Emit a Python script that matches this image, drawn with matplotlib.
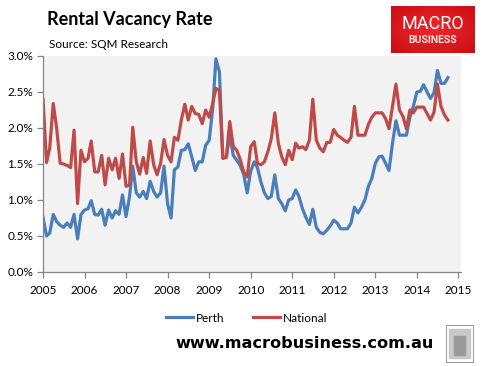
import numpy as np
import pandas as pd
import matplotlib
matplotlib.use('Agg')
import matplotlib.pyplot as plt
import matplotlib.dates as mdates
from matplotlib.patches import Rectangle
from matplotlib.ticker import FuncFormatter

# monthly series, Jan 2005 - Oct 2014 (percent)
perth = [
    0.76, 0.50, 0.54, 0.80, 0.70, 0.65, 0.62, 0.68, 0.62, 0.80, 0.46, 0.80,
    0.86, 0.88, 0.99, 0.80, 0.79, 0.87, 0.65, 0.86, 0.75, 0.85, 0.80, 1.07,
    0.77, 1.05, 1.47, 1.10, 1.04, 1.12, 1.02, 1.26, 1.12, 1.04, 1.10, 1.47,
    0.95, 0.75, 1.42, 1.46, 1.69, 1.70, 1.78, 1.60, 1.41, 1.53, 1.53, 1.76,
    1.83, 2.27, 2.96, 2.78, 1.58, 1.60, 1.90, 1.62, 1.55, 1.48, 1.35, 1.10,
    1.40, 1.53, 1.45, 1.25, 1.10, 1.02, 1.05, 1.35, 1.02, 0.95, 0.85, 1.00,
    1.02, 1.14, 1.05, 0.88, 0.76, 0.66, 0.87, 0.62, 0.55, 0.53, 0.58, 0.64,
    0.72, 0.68, 0.60, 0.60, 0.60, 0.68, 0.90, 0.82, 0.90, 1.00, 1.19, 1.30,
    1.51, 1.60, 1.61, 1.51, 1.41, 1.79, 2.10, 1.90, 1.90, 1.90, 2.15, 2.30,
    2.50, 2.51, 2.60, 2.50, 2.41, 2.49, 2.80, 2.62, 2.62, 2.70,
]
national = [
    2.40, 1.52, 1.72, 2.34, 2.00, 1.51, 1.50, 1.48, 1.45, 1.97, 0.95, 1.69,
    1.53, 1.58, 1.82, 1.39, 1.39, 1.62, 1.21, 1.58, 1.42, 1.58, 1.30, 1.64,
    1.19, 1.21, 2.01, 1.53, 1.36, 1.59, 1.37, 1.82, 1.49, 1.35, 1.51, 1.84,
    1.62, 1.53, 1.87, 1.83, 2.11, 2.33, 2.11, 2.30, 2.20, 2.19, 2.06, 2.25,
    2.15, 2.34, 2.55, 2.52, 1.58, 1.59, 2.09, 1.74, 1.69, 1.56, 1.39, 1.32,
    1.74, 1.81, 1.51, 1.49, 1.53, 1.67, 1.85, 2.21, 1.79, 1.60, 1.49, 1.69,
    1.56, 1.79, 1.72, 1.74, 1.70, 1.83, 2.40, 1.83, 1.72, 1.67, 1.80, 1.80,
    1.98, 1.90, 1.87, 1.83, 1.80, 1.87, 2.30, 1.90, 1.90, 1.90, 2.05, 2.15,
    2.21, 2.21, 2.21, 2.13, 1.99, 2.30, 2.61, 2.25, 2.16, 1.99, 2.25, 2.21,
    2.29, 2.29, 2.29, 2.20, 2.11, 2.22, 2.61, 2.30, 2.18, 2.11,
]
dates = pd.date_range('2005-01-01', periods=len(perth), freq='MS')
series_names = ['Perth', 'National']
series_colors = ['#4A7EBB', '#BE4B48']
yticks = [0.0, 0.5, 1.0, 1.5, 2.0, 2.5, 3.0]

plt.rcParams['font.family'] = ['Lato', 'DejaVu Sans']

fig = plt.figure(figsize=(4.83, 3.66), dpi=100)
ax = fig.add_axes([43 / 483, 1 - 272 / 366, 418 / 483, 216 / 366])
ax.set_facecolor('#F2F2F2')

for name, vals, col in zip(series_names, [perth, national], series_colors):
    ax.plot(dates, vals, color=col, lw=2.3, label=name, solid_joinstyle='round')

ax.set_ylim(0, 3.0)
ax.set_yticks(yticks)
ax.yaxis.set_major_formatter(FuncFormatter(lambda v, p: '%.1f%%' % v))
ax.set_xlim(pd.Timestamp('2005-01-01'), pd.Timestamp('2015-01-24'))
ax.xaxis.set_major_locator(mdates.YearLocator())
ax.xaxis.set_major_formatter(mdates.DateFormatter('%Y'))

for s in ['top', 'right']:
    ax.spines[s].set_visible(False)
for s in ['left', 'bottom']:
    ax.spines[s].set_color('#868686')
    ax.spines[s].set_linewidth(0.9)
ax.tick_params(axis='both', colors='#868686', length=4, width=0.9,
               labelsize=8.5, labelcolor='black', direction='out')
ax.tick_params(axis='y', pad=3)
ax.tick_params(axis='x', pad=5)

leg = fig.legend(loc='center', bbox_to_anchor=(247 / 483, 1 - 318 / 366), ncol=2,
                 frameon=False, fontsize=8.5, handlelength=2.3,
                 handletextpad=0.25, columnspacing=2.4)

fig.text(47 / 483, 1 - 20 / 366, 'Rental Vacancy Rate', fontsize=13,
         fontweight='bold', va='center', ha='left')
fig.text(49 / 483, 1 - 45 / 366, 'Source: SQM Research', fontsize=8.5,
         va='center', ha='left')

# logo
logo = fig.add_axes([391 / 483, 1 - 53 / 366, 83 / 483, 47 / 366])
gx, gy = np.meshgrid(np.linspace(-1, 1, 60), np.linspace(-1, 1, 40))
grad = np.sqrt(gx ** 2 + gy ** 2)
red = matplotlib.colors.LinearSegmentedColormap.from_list(
    'r', ['#F0262B', '#C80F14'])
logo.imshow(grad, cmap=red, aspect='auto', extent=[0, 1, 0, 1])
logo.text(0.5, 0.62, 'MACRO', color='white', fontsize=13, ha='center',
          va='center', family=['Roboto', 'DejaVu Sans'])
logo.text(0.5, 0.27, 'BUSINESS', color='#FBE3E3', fontsize=7.5, ha='center',
          va='center', family=['Roboto', 'DejaVu Sans'], fontweight='bold')
logo.set_axis_off()

fig.text(175 / 483, 1 - 344 / 366, 'www.macrobusiness.com.au', fontsize=11.6,
         fontweight='bold', va='center', ha='left', family=['DejaVu Sans'])

# wolf badge
badge = fig.add_axes([446 / 483, 1 - 362 / 366, 27 / 483, 37 / 366])
badge.set_xlim(0, 1)
badge.set_ylim(0, 1)
badge.add_patch(Rectangle((0.12, 0.1), 0.76, 0.8, color='#C8C8C8'))
badge.add_patch(Rectangle((0.3, 0.2), 0.4, 0.5, color='#9A9A9A'))
for s in badge.spines.values():
    s.set_color('#A0A0A0')
badge.set_xticks([])
badge.set_yticks([])

fig.savefig('out.png', dpi=100)
